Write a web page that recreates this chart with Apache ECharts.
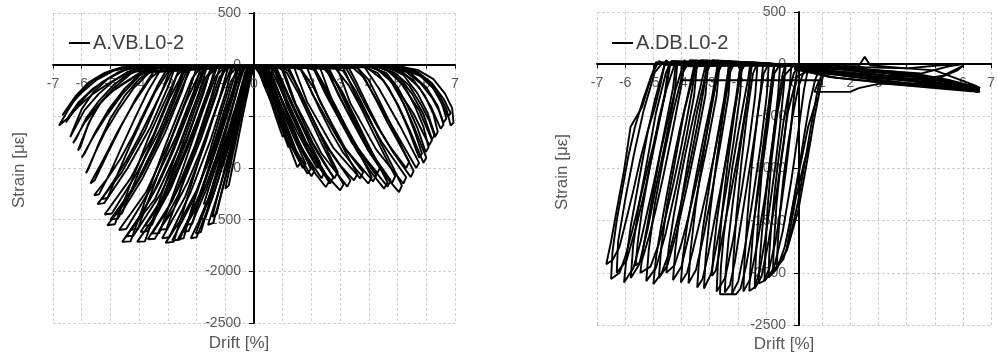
<!DOCTYPE html>
<html>
<head>
<meta charset="utf-8">
<script src="https://cdn.jsdelivr.net/npm/echarts@6/dist/echarts.min.js"></script>
<style>
    html, body { margin: 0; padding: 0; background: #fff; }
    #chart { width: 998px; height: 358px; }
</style>
</head>
<body>
<div id="chart"></div>
<script>
// axis ticks (both panels)
var driftTicks = [-7, -6, -5, -4, -3, -2, -1, 0, 1, 2, 3, 4, 5, 6, 7];
var strainTicks = [-2500, -2000, -1500, -1000, -500, 0, 500];

// A.VB.L0-2 : loops on positive drift side, [x, y, x, y, ...]
var vbPos = [
    [0,-10, 0.15,-60, 0.3,-150, 0.45,-230, 0.6,-300, 0.68,-270, 0.55,-170, 0.4,-90, 0.25,-40, 0,-10],
    [0,-10, 0.2,-90, 0.35,-200, 0.5,-300, 0.7,-420, 0.9,-550, 0.98,-500, 0.8,-380, 0.6,-250, 0.4,-120, 0.2,-40, 0,-10],
    [0,-10, 0.3,-110, 0.55,-330, 0.8,-540, 1.0,-700, 1.1,-660, 0.9,-500, 0.65,-300, 0.42,-100, 0,-10],
    [0,-10, 0.3,-100, 0.5,-260, 0.7,-420, 0.95,-610, 1.2,-800, 1.3,-760, 1.1,-580, 0.85,-390, 0.6,-210, 0.35,-70, 0,-10],
    [0,-10, 0.3,-110, 0.55,-300, 0.8,-480, 1.05,-650, 1.3,-840, 1.51,-991, 1.62,-950, 1.4,-780, 1.15,-600, 0.9,-410, 0.62,-220, 0.4,-60, 0,-10],
    [0,-10, 0.3,-100, 0.7,-420, 1.2,-740, 1.7,-1000, 1.8,-960, 1.35,-680, 0.9,-380, 0.5,-80, 0,-10],
    [0,-10, 0.32,-100, 0.6,-290, 0.9,-500, 1.2,-700, 1.55,-900, 1.86,-1055, 1.98,-1010, 1.7,-840, 1.4,-640, 1.1,-430, 0.8,-230, 0.5,-60, 0,-10],
    [0,-10, 0.35,-90, 0.8,-420, 1.4,-800, 2.0,-1080, 2.1,-1030, 1.55,-740, 1.0,-380, 0.6,-70, 0,-10],
    [0,-10, 0.5,-40, 0.8,-230, 1.15,-450, 1.5,-650, 1.85,-830, 2.2,-1000, 2.3,-950, 1.95,-760, 1.6,-560, 1.25,-350, 0.95,-150, 0.7,-40, 0,-10],
    [0,-10, 0.5,-50, 0.95,-400, 1.65,-810, 2.35,-1100, 2.45,-1040, 1.8,-740, 1.15,-340, 0.75,-40, 0,-10],
    [0,-10, 0.4,-60, 0.7,-250, 1.05,-480, 1.4,-700, 1.8,-900, 2.15,-1060, 2.5,-1184, 2.62,-1130, 2.3,-960, 1.95,-770, 1.6,-540, 1.2,-300, 0.85,-100, 0.6,-30, 0,-10],
    [0,-10, 0.7,-40, 1.15,-400, 1.9,-840, 2.65,-1150, 2.76,-1090, 2.05,-760, 1.35,-330, 0.95,-30, 0,-10],
    [0,-10, 0.8,-40, 1.05,-200, 1.4,-420, 1.75,-620, 2.1,-800, 2.45,-960, 2.8,-1100, 2.92,-1040, 2.6,-860, 2.25,-650, 1.9,-440, 1.55,-230, 1.2,-60, 0.9,-20, 0,-10],
    [0,-10, 0.6,-40, 0.9,-220, 1.3,-470, 1.7,-700, 2.1,-900, 2.55,-1080, 3.0,-1216, 3.12,-1160, 2.75,-980, 2.35,-760, 1.95,-520, 1.55,-280, 1.15,-80, 0.8,-20, 0,-10],
    [0,-10, 1.0,-30, 1.45,-380, 2.35,-860, 3.25,-1180, 3.36,-1120, 2.5,-780, 1.65,-300, 1.2,-25, 0,-10],
    [0,-10, 1.2,-30, 1.45,-180, 1.85,-420, 2.25,-640, 2.65,-830, 3.05,-990, 3.48,-1120, 3.6,-1060, 3.25,-880, 2.85,-660, 2.45,-430, 2.05,-210, 1.65,-50, 1.3,-20, 0,-10],
    [0,-10, 1.4,-30, 1.85,-360, 2.75,-800, 3.7,-1100, 3.8,-1040, 2.95,-730, 2.05,-290, 1.6,-25, 0,-10],
    [0,-10, 1.6,-30, 1.9,-200, 2.3,-440, 2.7,-660, 3.1,-850, 3.55,-1010, 3.98,-1150, 4.1,-1090, 3.75,-900, 3.35,-690, 2.95,-460, 2.5,-220, 2.1,-50, 1.7,-20, 0,-10],
    [0,-10, 1.85,-30, 2.3,-360, 3.2,-820, 4.15,-1130, 4.26,-1070, 3.4,-750, 2.5,-290, 2.05,-25, 0,-10],
    [0,-10, 2.1,-30, 2.4,-200, 2.8,-420, 3.2,-620, 3.6,-800, 3.95,-930, 4.3,-1050, 4.4,-990, 4.05,-820, 3.65,-610, 3.25,-390, 2.85,-170, 2.45,-40, 0,-10],
    [0,-10, 2.1,-30, 2.4,-180, 2.8,-420, 3.2,-640, 3.6,-840, 4.05,-1030, 4.53,-1200, 4.65,-1140, 4.3,-950, 3.9,-730, 3.5,-500, 3.05,-250, 2.6,-60, 2.2,-20, 0,-10],
    [0,-10, 2.3,-30, 2.75,-370, 3.7,-850, 4.65,-1180, 4.76,-1120, 3.9,-780, 2.95,-300, 2.5,-25, 0,-10],
    [0,-10, 2.5,-30, 2.8,-200, 3.2,-430, 3.6,-640, 4.0,-840, 4.4,-1000, 4.8,-1150, 4.92,-1080, 4.55,-880, 4.15,-660, 3.75,-430, 3.3,-200, 2.85,-40, 0,-10],
    [0,-10, 2.6,-30, 2.9,-200, 3.3,-440, 3.7,-670, 4.1,-880, 4.55,-1070, 5.05,-1233, 5.15,-1170, 4.8,-970, 4.4,-750, 4.0,-510, 3.55,-260, 3.1,-60, 2.7,-20, 0,-10],
    [0,-10, 2.9,-30, 3.35,-370, 4.25,-820, 5.2,-1150, 5.3,-1090, 4.45,-750, 3.55,-300, 3.1,-25, 0,-10],
    [0,-10, 3.2,-30, 3.5,-180, 3.9,-400, 4.3,-600, 4.7,-780, 5.3,-1000, 5.4,-940, 5.05,-760, 4.65,-560, 4.25,-340, 3.85,-130, 3.45,-30, 0,-10],
    [0,-10, 3.3,-30, 3.6,-190, 4.0,-420, 4.4,-640, 4.85,-850, 5.46,-1088, 5.56,-1030, 5.2,-830, 4.8,-600, 4.4,-370, 4.0,-150, 3.6,-30, 0,-10],
    [0,-10, 3.6,-25, 4.1,-260, 4.9,-640, 5.65,-1000, 5.75,-950, 5.1,-600, 4.35,-230, 3.85,-25, 0,-10],
    [0,-10, 3.8,-20, 4.3,-80, 4.7,-230, 5.05,-420, 5.4,-640, 5.75,-900, 5.85,-860, 5.6,-650, 5.3,-430, 4.95,-230, 4.55,-80, 4.1,-20, 0,-10],
    [0,-10, 3.9,-20, 4.5,-150, 5.0,-380, 5.45,-650, 5.9,-950, 6.0,-900, 5.6,-620, 5.2,-370, 4.75,-150, 4.2,-20, 0,-10],
    [0,-10, 4.0,-20, 4.6,-80, 5.0,-220, 5.35,-400, 5.7,-620, 5.98,-846, 6.08,-800, 5.9,-600, 5.6,-400, 5.25,-210, 4.8,-70, 4.3,-20, 0,-10],
    [0,-10, 4.2,-20, 4.85,-180, 5.55,-470, 6.1,-780, 6.2,-730, 5.75,-440, 5.1,-170, 4.5,-20, 0,-10],
    [0,-10, 4.3,-20, 5.0,-100, 5.5,-280, 5.9,-480, 6.2,-720, 6.3,-680, 6.05,-470, 5.7,-280, 5.2,-100, 4.6,-20, 0,-10],
    [0,-10, 4.3,-20, 4.9,-80, 5.4,-200, 5.8,-380, 6.1,-540, 6.3,-700, 6.4,-650, 6.25,-480, 5.95,-300, 5.55,-150, 5.0,-50, 4.5,-20, 0,-10],
    [0,-10, 4.5,-20, 5.2,-80, 5.75,-220, 6.15,-400, 6.5,-620, 6.6,-580, 6.4,-400, 6.0,-220, 5.45,-80, 4.8,-20, 0,-10],
    [0,-10, 4.6,-20, 5.3,-70, 5.8,-180, 6.2,-320, 6.45,-450, 6.6,-560, 6.7,-520, 6.55,-380, 6.25,-230, 5.8,-110, 5.2,-40, 4.7,-15, 0,-10],
    [0,-10, 4.9,-20, 5.6,-70, 6.1,-170, 6.45,-320, 6.75,-500, 6.85,-470, 6.6,-330, 6.2,-180, 5.7,-70, 5.1,-15, 0,-10],
    [0,-10, 4.8,-20, 5.6,-60, 6.1,-160, 6.45,-290, 6.7,-430, 6.85,-589, 6.95,-560, 6.9,-420, 6.65,-280, 6.25,-140, 5.7,-50, 5.0,-15, 0,-10]
];

// A.VB.L0-2 : loops on negative drift side
var vbNeg = [
    [0,-10, -0.15,-80, -0.3,-200, -0.45,-310, -0.6,-420, -0.5,-400, -0.35,-270, -0.2,-150, -0.05,-60, 0,-10],
    [0,-10, -0.2,-120, -0.4,-280, -0.6,-440, -0.75,-570, -0.9,-700, -0.8,-680, -0.62,-520, -0.45,-360, -0.25,-200, -0.05,-60, 0,-10],
    [0,-10, -0.2,-150, -0.45,-480, -0.7,-820, -1.0,-1200, -0.88,-1170, -0.62,-820, -0.38,-480, -0.12,-140, 0,-10],
    [0,-10, -0.22,-130, -0.45,-330, -0.7,-540, -0.95,-780, -1.2,-1000, -1.08,-980, -0.85,-760, -0.6,-520, -0.35,-290, -0.1,-80, 0,-10],
    [0,-10, -0.25,-160, -0.5,-440, -0.75,-720, -1.0,-990, -1.25,-1250, -1.45,-1473, -1.3,-1440, -1.1,-1200, -0.85,-920, -0.6,-630, -0.35,-340, -0.1,-100, 0,-10],
    [0,-10, -0.15,-60, -0.45,-420, -0.8,-820, -1.2,-1200, -1.6,-1550, -1.42,-1530, -1.05,-1160, -0.68,-760, -0.32,-330, -0.05,-40, 0,-10],
    [0,-10, -0.3,-120, -0.6,-380, -0.9,-640, -1.2,-880, -1.5,-1130, -1.75,-1350, -1.6,-1330, -1.35,-1080, -1.05,-800, -0.75,-520, -0.45,-250, -0.15,-60, 0,-10],
    [0,-10, -0.3,-60, -0.6,-400, -0.95,-780, -1.4,-1170, -1.9,-1500, -1.7,-1490, -1.25,-1120, -0.85,-720, -0.5,-330, -0.2,-40, 0,-10],
    [0,-10, -0.2,-40, -0.5,-280, -0.8,-580, -1.1,-880, -1.45,-1180, -1.75,-1430, -2.03,-1634, -1.85,-1620, -1.6,-1380, -1.3,-1080, -1.0,-780, -0.7,-470, -0.4,-170, -0.15,-40, 0,-10],
    [0,-10, -0.25,-40, -0.6,-420, -1.0,-830, -1.6,-1330, -2.2,-1680, -2.0,-1670, -1.45,-1290, -0.85,-760, -0.45,-330, -0.1,-30, 0,-10],
    [0,-10, -0.35,-40, -0.65,-300, -0.95,-580, -1.3,-880, -1.65,-1150, -2.0,-1380, -2.35,-1550, -2.15,-1540, -1.9,-1300, -1.6,-1020, -1.3,-730, -0.95,-420, -0.6,-140, -0.3,-30, 0,-10],
    [0,-10, -0.55,-40, -0.85,-380, -1.3,-800, -1.85,-1240, -2.5,-1620, -2.28,-1610, -1.65,-1200, -1.1,-760, -0.65,-320, -0.4,-30, 0,-10],
    [0,-10, -0.45,-30, -0.7,-250, -1.05,-560, -1.4,-870, -1.75,-1170, -2.2,-1460, -2.65,-1690, -2.45,-1680, -2.2,-1420, -1.85,-1120, -1.5,-800, -1.15,-470, -0.8,-160, -0.5,-30, 0,-10],
    [0,-10, -0.6,-30, -0.9,-320, -1.4,-770, -2.1,-1300, -2.85,-1700, -2.6,-1695, -1.9,-1260, -1.2,-720, -0.7,-280, -0.45,-25, 0,-10],
    [0,-10, -0.4,-30, -0.7,-240, -1.1,-560, -1.5,-880, -1.95,-1190, -2.5,-1480, -3.08,-1724, -2.8,-1715, -2.5,-1450, -2.15,-1130, -1.75,-780, -1.35,-450, -0.95,-130, -0.6,-25, 0,-10],
    [0,-10, -0.9,-30, -1.2,-320, -1.7,-760, -2.4,-1280, -3.2,-1680, -2.95,-1670, -2.2,-1230, -1.5,-720, -1.0,-280, -0.75,-25, 0,-10],
    [0,-10, -0.8,-30, -1.05,-220, -1.45,-520, -1.85,-830, -2.3,-1130, -2.8,-1400, -3.3,-1600, -3.05,-1590, -2.7,-1330, -2.35,-1040, -1.95,-720, -1.55,-400, -1.2,-120, -0.9,-25, 0,-10],
    [0,-10, -1.0,-30, -1.25,-220, -1.65,-530, -2.1,-850, -2.55,-1150, -3.05,-1420, -3.54,-1634, -3.3,-1630, -2.95,-1360, -2.55,-1060, -2.15,-740, -1.75,-420, -1.35,-120, -1.05,-25, 0,-10],
    [0,-10, -1.2,-30, -1.5,-320, -2.05,-780, -2.85,-1320, -3.7,-1690, -3.45,-1685, -2.65,-1270, -1.85,-720, -1.3,-280, -1.05,-25, 0,-10],
    [0,-10, -1.3,-30, -1.55,-220, -1.95,-520, -2.4,-830, -2.85,-1120, -3.3,-1360, -3.8,-1560, -3.55,-1550, -3.2,-1300, -2.8,-1010, -2.4,-700, -2.0,-390, -1.6,-110, -1.3,-25, 0,-10],
    [0,-10, -1.5,-30, -1.8,-300, -2.35,-740, -3.1,-1250, -3.95,-1620, -3.7,-1610, -2.9,-1200, -2.15,-700, -1.6,-270, -1.35,-25, 0,-10],
    [0,-10, -1.3,-30, -1.6,-250, -2.0,-560, -2.45,-890, -2.95,-1210, -3.5,-1490, -4.07,-1715, -3.8,-1710, -3.45,-1440, -3.05,-1120, -2.6,-780, -2.15,-440, -1.7,-130, -1.4,-25, 0,-10],
    [0,-10, -1.7,-30, -1.95,-220, -2.35,-510, -2.8,-830, -3.3,-1140, -3.8,-1390, -4.3,-1600, -4.05,-1590, -3.7,-1330, -3.3,-1030, -2.85,-700, -2.4,-380, -1.95,-110, -1.7,-25, 0,-10],
    [0,-10, -1.65,-30, -1.95,-300, -2.55,-760, -3.45,-1300, -4.45,-1660, -4.2,-1655, -3.25,-1250, -2.35,-720, -1.75,-270, -1.5,-25, 0,-10],
    [0,-10, -1.75,-30, -2.05,-250, -2.5,-580, -2.95,-900, -3.45,-1210, -4.0,-1480, -4.59,-1715, -4.3,-1710, -3.95,-1440, -3.55,-1130, -3.1,-790, -2.6,-440, -2.15,-130, -1.85,-25, 0,-10],
    [0,-10, -2.0,-30, -2.3,-290, -2.9,-720, -3.75,-1230, -4.7,-1600, -4.45,-1590, -3.55,-1180, -2.7,-690, -2.1,-260, -1.85,-25, 0,-10],
    [0,-10, -2.2,-30, -2.5,-220, -2.95,-510, -3.4,-790, -3.9,-1060, -4.35,-1270, -4.85,-1450, -4.6,-1440, -4.25,-1200, -3.85,-930, -3.4,-630, -2.95,-330, -2.5,-90, -2.2,-20, 0,-10],
    [0,-10, -2.4,-30, -2.7,-280, -3.3,-700, -4.1,-1150, -5.0,-1500, -4.75,-1490, -3.9,-1110, -3.1,-660, -2.5,-250, -2.25,-25, 0,-10],
    [0,-10, -2.3,-30, -2.6,-230, -3.05,-530, -3.55,-840, -4.05,-1120, -4.55,-1360, -5.11,-1554, -4.85,-1545, -4.5,-1300, -4.1,-1010, -3.65,-690, -3.15,-380, -2.7,-110, -2.4,-20, 0,-10],
    [0,-10, -2.6,-30, -2.9,-270, -3.5,-680, -4.3,-1100, -5.2,-1450, -4.95,-1440, -4.1,-1060, -3.3,-640, -2.7,-240, -2.45,-25, 0,-10],
    [0,-10, -2.8,-30, -3.1,-200, -3.55,-450, -4.0,-700, -4.45,-930, -4.9,-1130, -5.3,-1300, -5.1,-1290, -4.75,-1060, -4.35,-800, -3.9,-530, -3.45,-270, -3.0,-70, -2.8,-20, 0,-10],
    [0,-10, -2.9,-30, -3.2,-250, -3.8,-640, -4.6,-1040, -5.45,-1350, -5.22,-1340, -4.4,-1000, -3.6,-600, -3.0,-220, -2.75,-25, 0,-10],
    [0,-10, -3.0,-30, -3.3,-170, -3.75,-420, -4.2,-680, -4.65,-910, -5.1,-1100, -5.57,-1264, -5.4,-1255, -5.0,-1040, -4.6,-790, -4.15,-520, -3.7,-260, -3.3,-70, 0,-10],
    [0,-10, -3.1,-20, -3.6,-130, -4.2,-380, -4.75,-650, -5.25,-920, -5.7,-1150, -5.55,-1120, -5.1,-860, -4.6,-580, -4.1,-320, -3.5,-70, 0,-10],
    [0,-10, -3.2,-20, -3.7,-90, -4.2,-230, -4.7,-430, -5.2,-660, -5.55,-860, -5.85,-1050, -5.75,-1000, -5.4,-760, -5.0,-520, -4.5,-300, -4.0,-140, -3.5,-40, 0,-10],
    [0,-10, -3.4,-20, -4.0,-110, -4.6,-290, -5.15,-500, -5.6,-700, -6.0,-900, -5.9,-860, -5.5,-640, -5.05,-430, -4.5,-230, -3.9,-70, 0,-10],
    [0,-10, -3.5,-20, -4.0,-90, -4.5,-180, -4.94,-260, -5.35,-370, -5.75,-560, -6.13,-830, -6.05,-800, -5.8,-600, -5.5,-420, -5.1,-290, -4.6,-190, -4.1,-100, -3.7,-30, 0,-10],
    [0,-10, -3.7,-20, -4.3,-90, -4.9,-230, -5.4,-390, -5.9,-560, -6.3,-760, -6.2,-720, -5.85,-520, -5.4,-350, -4.9,-200, -4.3,-70, 0,-10],
    [0,-10, -3.9,-20, -4.4,-70, -4.9,-160, -5.4,-280, -5.9,-440, -6.4,-700, -6.33,-650, -6.0,-430, -5.6,-270, -5.1,-140, -4.6,-60, -4.1,-20, 0,-10],
    [0,-10, -4.1,-20, -4.7,-70, -5.3,-170, -5.8,-290, -6.2,-420, -6.55,-560, -6.45,-500, -6.1,-360, -5.6,-230, -5.0,-120, -4.4,-40, 0,-10],
    [0,-10, -4.3,-20, -4.9,-60, -5.5,-150, -6.0,-270, -6.4,-390, -6.68,-492, -6.55,-440, -6.2,-300, -5.75,-170, -5.2,-80, -4.6,-25, 0,-10],
    [0,-10, -4.4,-20, -5.0,-60, -5.5,-130, -5.9,-220, -6.2,-320, -6.5,-450, -6.79,-589, -6.5,-520, -6.1,-400, -5.6,-280, -5.0,-170, -4.4,-80, -3.9,-25, 0,-10]
];

// A.DB.L0-2 : loops on negative drift side
var dbNeg = [
    [0,-10, -4.6,-5, -4.75,-200, -4.95,-420, -5.2,-640, -5.45,-900, -5.7,-1200, -5.95,-1480, -6.2,-1750, -6.45,-1880, -6.67,-1917, -6.5,-1700, -6.3,-1400, -6.04,-1020, -5.81,-603, -5.4,-410, -5.07,-122, -4.9,20, -4.7,0, 0,-10],
    [0,-10, -4.4,-5, -4.55,-250, -4.75,-500, -5.0,-780, -5.25,-1050, -5.5,-1330, -5.75,-1600, -6.0,-1850, -6.2,-2000, -6.5,-2060, -6.45,-1800, -6.3,-1500, -6.1,-1200, -5.9,-900, -5.65,-600, -5.35,-330, -5.05,-100, -4.8,30, -4.6,5, 0,-10],
    [0,-10, -4.45,-5, -4.6,-300, -4.9,-700, -5.25,-1150, -5.6,-1550, -5.95,-1880, -6.3,-2000, -6.25,-1700, -6.0,-1300, -5.7,-880, -5.35,-450, -4.95,-80, -4.65,20, 0,-10],
    [0,-10, -4.2,-5, -4.3,-230, -4.5,-500, -4.72,-800, -4.95,-1100, -5.2,-1400, -5.45,-1700, -5.7,-1950, -6.04,-2093, -5.95,-1850, -5.8,-1550, -5.6,-1250, -5.4,-950, -5.2,-650, -4.95,-350, -4.7,-100, -4.55,38, -4.4,5, 0,-10],
    [0,-10, -4.15,-5, -4.25,-300, -4.55,-720, -4.9,-1170, -5.2,-1580, -5.5,-1920, -5.8,-2050, -5.72,-1750, -5.5,-1330, -5.2,-900, -4.9,-460, -4.55,-80, -4.35,30, 0,-10],
    [0,-10, -3.9,-5, -4.0,-200, -4.2,-480, -4.42,-780, -4.65,-1080, -4.9,-1380, -5.15,-1650, -5.4,-1880, -5.63,-1933, -5.55,-1700, -5.4,-1400, -5.2,-1100, -5.0,-800, -4.8,-520, -4.55,-250, -4.3,-50, -4.2,30, -4.05,5, 0,-10],
    [0,-10, -3.5,-5, -3.62,-250, -3.82,-540, -4.05,-850, -4.3,-1160, -4.55,-1450, -4.8,-1720, -5.1,-1940, -5.46,-2000, -5.35,-1750, -5.15,-1450, -4.95,-1150, -4.75,-850, -4.5,-560, -4.25,-280, -4.0,-60, -3.9,38, -3.75,5, 0,-10],
    [0,-10, -3.45,-5, -3.55,-300, -3.85,-730, -4.2,-1190, -4.55,-1610, -4.9,-1950, -5.25,-2080, -5.16,-1780, -4.95,-1350, -4.65,-910, -4.3,-460, -3.95,-80, -3.7,38, 0,-10],
    [0,-10, -3.1,-5, -3.22,-260, -3.42,-560, -3.65,-880, -3.9,-1200, -4.15,-1500, -4.4,-1780, -4.7,-2000, -5.0,-2109, -4.9,-1850, -4.72,-1550, -4.52,-1250, -4.3,-940, -4.07,-640, -3.82,-350, -3.6,-80, -3.5,38, -3.35,5, 0,-10],
    [0,-10, -3.05,-5, -3.15,-300, -3.45,-720, -3.8,-1170, -4.15,-1590, -4.5,-1930, -4.8,-2050, -4.72,-1760, -4.5,-1330, -4.2,-890, -3.9,-450, -3.55,-80, -3.3,38, 0,-10],
    [0,-10, -2.7,-5, -2.82,-250, -3.02,-550, -3.25,-860, -3.5,-1170, -3.75,-1460, -4.0,-1720, -4.25,-1930, -4.54,-2000, -4.45,-1760, -4.28,-1460, -4.08,-1160, -3.86,-860, -3.62,-560, -3.38,-280, -3.18,-50, -3.1,38, -2.95,5, 0,-10],
    [0,-10, -2.65,-5, -2.75,-300, -3.05,-730, -3.4,-1180, -3.7,-1600, -4.0,-1940, -4.3,-2070, -4.22,-1780, -4.02,-1350, -3.75,-900, -3.45,-460, -3.12,-80, -2.9,38, 0,-10],
    [0,-10, -2.3,-5, -2.42,-260, -2.62,-570, -2.85,-890, -3.1,-1210, -3.35,-1510, -3.6,-1790, -3.8,-2000, -4.02,-2093, -3.95,-1850, -3.8,-1550, -3.6,-1240, -3.38,-930, -3.15,-620, -2.92,-330, -2.75,-60, -2.7,38, -2.55,5, 0,-10],
    [0,-10, -2.25,-5, -2.33,-300, -2.6,-740, -2.9,-1200, -3.2,-1630, -3.48,-1970, -3.75,-2100, -3.68,-1800, -3.5,-1370, -3.25,-910, -2.98,-460, -2.7,-80, -2.5,30, 0,-10],
    [0,-10, -1.9,-5, -2.0,-250, -2.18,-560, -2.4,-890, -2.62,-1210, -2.85,-1530, -3.05,-1820, -3.25,-2060, -3.44,-2141, -3.38,-1900, -3.25,-1600, -3.08,-1290, -2.9,-970, -2.7,-660, -2.5,-360, -2.35,-80, -2.3,30, -2.15,5, 0,-10],
    [0,-10, -1.85,-5, -1.92,-300, -2.15,-750, -2.42,-1220, -2.7,-1660, -2.95,-2010, -3.2,-2150, -3.14,-1850, -2.98,-1410, -2.76,-940, -2.52,-480, -2.28,-80, -2.1,20, 0,-10],
    [0,-10, -1.5,-5, -1.6,-230, -1.78,-530, -1.98,-850, -2.2,-1170, -2.42,-1480, -2.62,-1760, -2.78,-1980, -2.92,-2029, -2.86,-1800, -2.74,-1500, -2.58,-1190, -2.4,-880, -2.22,-580, -2.05,-300, -1.93,-60, -1.9,20, 0,-10],
    [0,-10, -1.3,-5, -1.38,-300, -1.6,-760, -1.88,-1240, -2.17,-1690, -2.45,-2050, -2.75,-2180, -2.7,-1880, -2.56,-1430, -2.36,-950, -2.13,-490, -1.9,-80, -1.7,20, 0,-10],
    [0,-10, -1.1,-5, -1.18,-240, -1.33,-560, -1.52,-900, -1.72,-1240, -1.92,-1580, -2.1,-1890, -2.28,-2120, -2.46,-2189, -2.42,-1960, -2.32,-1660, -2.18,-1340, -2.02,-1010, -1.85,-690, -1.68,-380, -1.55,-100, -1.5,20, 0,-10],
    [0,-10, -0.9,-5, -0.97,-300, -1.18,-770, -1.45,-1260, -1.72,-1720, -1.98,-2080, -2.2,-2200, -2.16,-1900, -2.05,-1450, -1.88,-970, -1.68,-500, -1.46,-90, -1.3,10, 0,-10],
    [0,-10, -0.7,-10, -0.78,-250, -0.92,-580, -1.1,-930, -1.3,-1280, -1.5,-1620, -1.7,-1930, -1.9,-2150, -2.06,-2205, -2.63,-2205, -2.6,-1950, -2.5,-1650, -2.35,-1330, -2.2,-1000, -2.0,-680, -1.8,-380, -1.62,-120, -1.55,10, 0,-10],
    [0,-10, -0.5,-15, -0.57,-300, -0.76,-760, -1.02,-1250, -1.3,-1710, -1.56,-2060, -1.8,-2180, -1.76,-1890, -1.65,-1440, -1.5,-960, -1.3,-500, -1.08,-90, -0.9,0, 0,-10],
    [0,-10, -0.3,-20, -0.38,-260, -0.5,-600, -0.66,-960, -0.84,-1320, -1.03,-1680, -1.22,-1980, -1.4,-2140, -1.59,-2173, -1.55,-1950, -1.47,-1650, -1.35,-1330, -1.2,-1000, -1.05,-680, -0.9,-380, -0.78,-120, -0.7,0, 0,-10],
    [0,-10, -0.1,-30, -0.18,-300, -0.36,-750, -0.62,-1230, -0.9,-1690, -1.16,-2040, -1.4,-2150, -1.36,-1870, -1.26,-1420, -1.12,-950, -0.92,-490, -0.7,-90, -0.5,0, 0,-10],
    [0,-10, 0.1,-60, 0.0,-300, -0.12,-640, -0.28,-1000, -0.46,-1360, -0.66,-1700, -0.88,-1960, -1.08,-2080, -1.26,-2100, -1.22,-1880, -1.13,-1580, -1.0,-1260, -0.86,-930, -0.7,-610, -0.55,-320, -0.4,-90, -0.3,0, 0,-10],
    [0,-10, 0.5,-40, 0.35,-250, 0.15,-650, -0.1,-1120, -0.4,-1600, -0.72,-1960, -1.05,-2080, -1.02,-1810, -0.94,-1380, -0.8,-920, -0.6,-480, -0.35,-110, 0,-10],
    [0,-10, 0.9,-50, 0.75,-150, 0.55,-380, 0.35,-700, 0.15,-1050, -0.08,-1420, -0.33,-1750, -0.6,-1960, -0.91,-2045, -0.88,-1820, -0.8,-1520, -0.68,-1200, -0.54,-880, -0.38,-560, -0.2,-280, 0.0,-80, 0.2,-20, 0,-10],
    [0,-10, 1.1,-40, 0.95,-200, 0.72,-520, 0.45,-950, 0.15,-1400, -0.25,-1780, -0.75,-2000, -0.72,-1740, -0.62,-1330, -0.45,-890, -0.22,-460, 0.1,-120, 0.7,-40, 0,-10],
    [0,-10, 1.0,-40, 0.95,-120, 0.8,-300, 0.6,-600, 0.38,-950, 0.14,-1320, -0.12,-1640, -0.38,-1870, -0.61,-1949, -0.58,-1720, -0.5,-1420, -0.38,-1100, -0.22,-780, -0.04,-480, 0.15,-220, 0.35,-70, 0.6,-20, 0,-10]
];

// A.DB.L0-2 : thin band on positive drift side and the last open strokes
var dbPos = [
    [0,-10, -4.0,-20, -4.0,-154, 0.9,-154, 0.72,-266, 1.99,-266, 2.3,-230, 3.03,-186, 4.0,-200, 5.0,-220, 6.0,-240, 6.61,-266, 5.5,-200, 4.5,-150, 3.5,-120, 2.5,-80, 1.5,-40, 0.5,-10, 0,0],
    [0,-20, 1.0,-60, 2.0,-80, 2.9,-120, 3.9,-150, 4.6,-140, 5.3,-110, 6.0,-15, 5.8,-60, 5.0,-150, 4.2,-190, 3.3,-170, 2.3,-130, 1.2,-90, 0,-30],
    [0,-30, 1.0,-90, 2.0,-110, 3.0,-150, 4.0,-180, 5.0,-200, 6.1,-230, 6.6,-250, 6.0,-220, 5.0,-170, 4.0,-110, 3.0,-80, 2.0,-50, 1.0,-20, 0,-10],
    [0,0, 1.0,-20, 2.3,-20, 2.51,70, 2.7,-10, 4.0,-40, 5.0,-60, 6.4,-200, 6.61,-230, 5.5,-150, 4.5,-100, 3.5,-70, 2.5,-50, 1.5,-40, 0,-20],
    [0,-10, 1.5,-30, 3.0,-60, 4.5,-90, 5.5,-20, 6.0,0, 5.2,-10, 4.0,-40, 2.5,-30, 1.0,-10, 0,0],
    [0,-40, 1.2,-120, 2.5,-160, 3.8,-200, 5.0,-230, 6.3,-260, 6.5,-245, 5.2,-190, 4.0,-150, 2.6,-110, 1.3,-70, 0,-20],
    [0,-50, 1.5,-130, 3.0,-170, 4.5,-200, 6.0,-240, 6.55,-270, 5.8,-230, 4.4,-170, 3.0,-120, 1.6,-90, 0,-40],
    [0,-20, 2.0,-60, 3.5,-90, 5.0,-140, 6.3,-215, 6.6,-240, 5.6,-180, 4.2,-120, 2.8,-100, 1.5,-70, 0,-30],
    [0,-15, 1.8,-110, 3.2,-140, 4.6,-170, 5.9,-200, 6.35,-215, 5.0,-130, 3.6,-80, 2.2,-40, 0,-10],
    [-0.25,-1750, 0.05,-1300, 0.35,-950, 0.6,-715],
    [-0.15,-1500, 0.2,-1000, 0.5,-600, 0.83,-314]
];

var vbName = 'A.VB.L0-2';
var dbName = 'A.DB.L0-2';

var FONT = '"Liberation Sans", Arial, sans-serif';
var LABEL_GRAY = '#595959';

// plot boxes (pixels)
var boxes = [
    { left: 53, top: 13, width: 402, height: 310 },
    { left: 597, top: 12, width: 404, height: 313 }
];

function toPoints(flat) {
    var pts = [];
    for (var i = 0; i + 1 < flat.length; i += 2) {
        pts.push([flat[i], flat[i + 1]]);
    }
    return pts;
}

function loopSeries(loops, name, idx) {
    return loops.map(function(loop) {
        return {
            type: 'line',
            name: name,
            xAxisIndex: idx,
            yAxisIndex: idx,
            data: toPoints(loop),
            symbol: 'none',
            silent: true,
            lineStyle: { color: '#000', width: 1.9 },
            itemStyle: { color: '#000' },
            z: 3
        };
    });
}

function plainNumber(v) {
    return String(v);
}

function xAxisFor(idx) {
    var b = boxes[idx];
    var yMin = strainTicks[0], yMax = strainTicks[strainTicks.length - 1];
    // move the axis up to strain = 0
    var off = -b.height * (0 - yMin) / (yMax - yMin);
    return {
        type: 'value',
        gridIndex: idx,
        position: 'bottom',
        offset: off,
        min: driftTicks[0],
        max: driftTicks[driftTicks.length - 1],
        interval: driftTicks[1] - driftTicks[0],
        axisLine: { onZero: false, lineStyle: { color: '#000', width: 2 } },
        axisTick: { show: true, length: 4, lineStyle: { color: '#000', width: 1 } },
        axisLabel: { color: LABEL_GRAY, fontSize: 14, fontFamily: FONT, margin: 12, formatter: plainNumber },
        splitLine: { show: true, lineStyle: { type: [3, 2], color: '#cfcfcf', width: 1 } }
    };
}

function yAxisFor(idx) {
    var b = boxes[idx];
    var xMin = driftTicks[0], xMax = driftTicks[driftTicks.length - 1];
    // move the axis right to drift = 0
    var off = -b.width * (0 - xMin) / (xMax - xMin);
    return {
        type: 'value',
        gridIndex: idx,
        position: 'left',
        offset: off,
        min: strainTicks[0],
        max: strainTicks[strainTicks.length - 1],
        interval: strainTicks[1] - strainTicks[0],
        axisLine: { onZero: false, lineStyle: { color: '#000', width: 2 } },
        axisTick: { show: true, length: 5, lineStyle: { color: '#000', width: 1 } },
        axisLabel: { color: LABEL_GRAY, fontSize: 14, fontFamily: FONT, margin: 13, formatter: plainNumber },
        splitLine: { show: true, lineStyle: { type: [3, 2], color: '#cfcfcf', width: 1 } }
    };
}

function axisTitle(text, x, y, rotate) {
    return {
        type: 'text',
        x: x,
        y: y,
        rotation: rotate ? Math.PI / 2 : 0,
        style: {
            text: text,
            fill: LABEL_GRAY,
            font: '17px ' + FONT,
            align: 'center',
            verticalAlign: 'middle'
        }
    };
}

function legendFor(name, left) {
    return {
        data: [name],
        left: left,
        top: 28,
        icon: 'rect',
        itemWidth: 21,
        itemHeight: 2,
        itemGap: 4,
        textStyle: { color: '#404040', fontSize: 20, fontFamily: FONT, padding: [0, 0, 0, -2] }
    };
}

var chart = echarts.init(document.getElementById('chart'), null, { renderer: 'canvas' });

var series = []
    .concat(loopSeries(vbNeg, vbName, 0))
    .concat(loopSeries(vbPos, vbName, 0))
    .concat(loopSeries(dbNeg, dbName, 1))
    .concat(loopSeries(dbPos, dbName, 1));

var option = {
    animation: false,
    backgroundColor: '#fff',
    grid: boxes.map(function(b) {
        return { left: b.left, top: b.top, width: b.width, height: b.height };
    }),
    xAxis: [xAxisFor(0), xAxisFor(1)],
    yAxis: [yAxisFor(0), yAxisFor(1)],
    legend: [legendFor(vbName, 64), legendFor(dbName, 607)],
    graphic: [
        axisTitle('Strain [με]', 19, 170, true),
        axisTitle('Drift [%]', 239, 343, false),
        axisTitle('Strain [με]', 562, 172, true),
        axisTitle('Drift [%]', 784, 344, false)
    ],
    series: series
};

chart.setOption(option);
</script>
</body>
</html>
